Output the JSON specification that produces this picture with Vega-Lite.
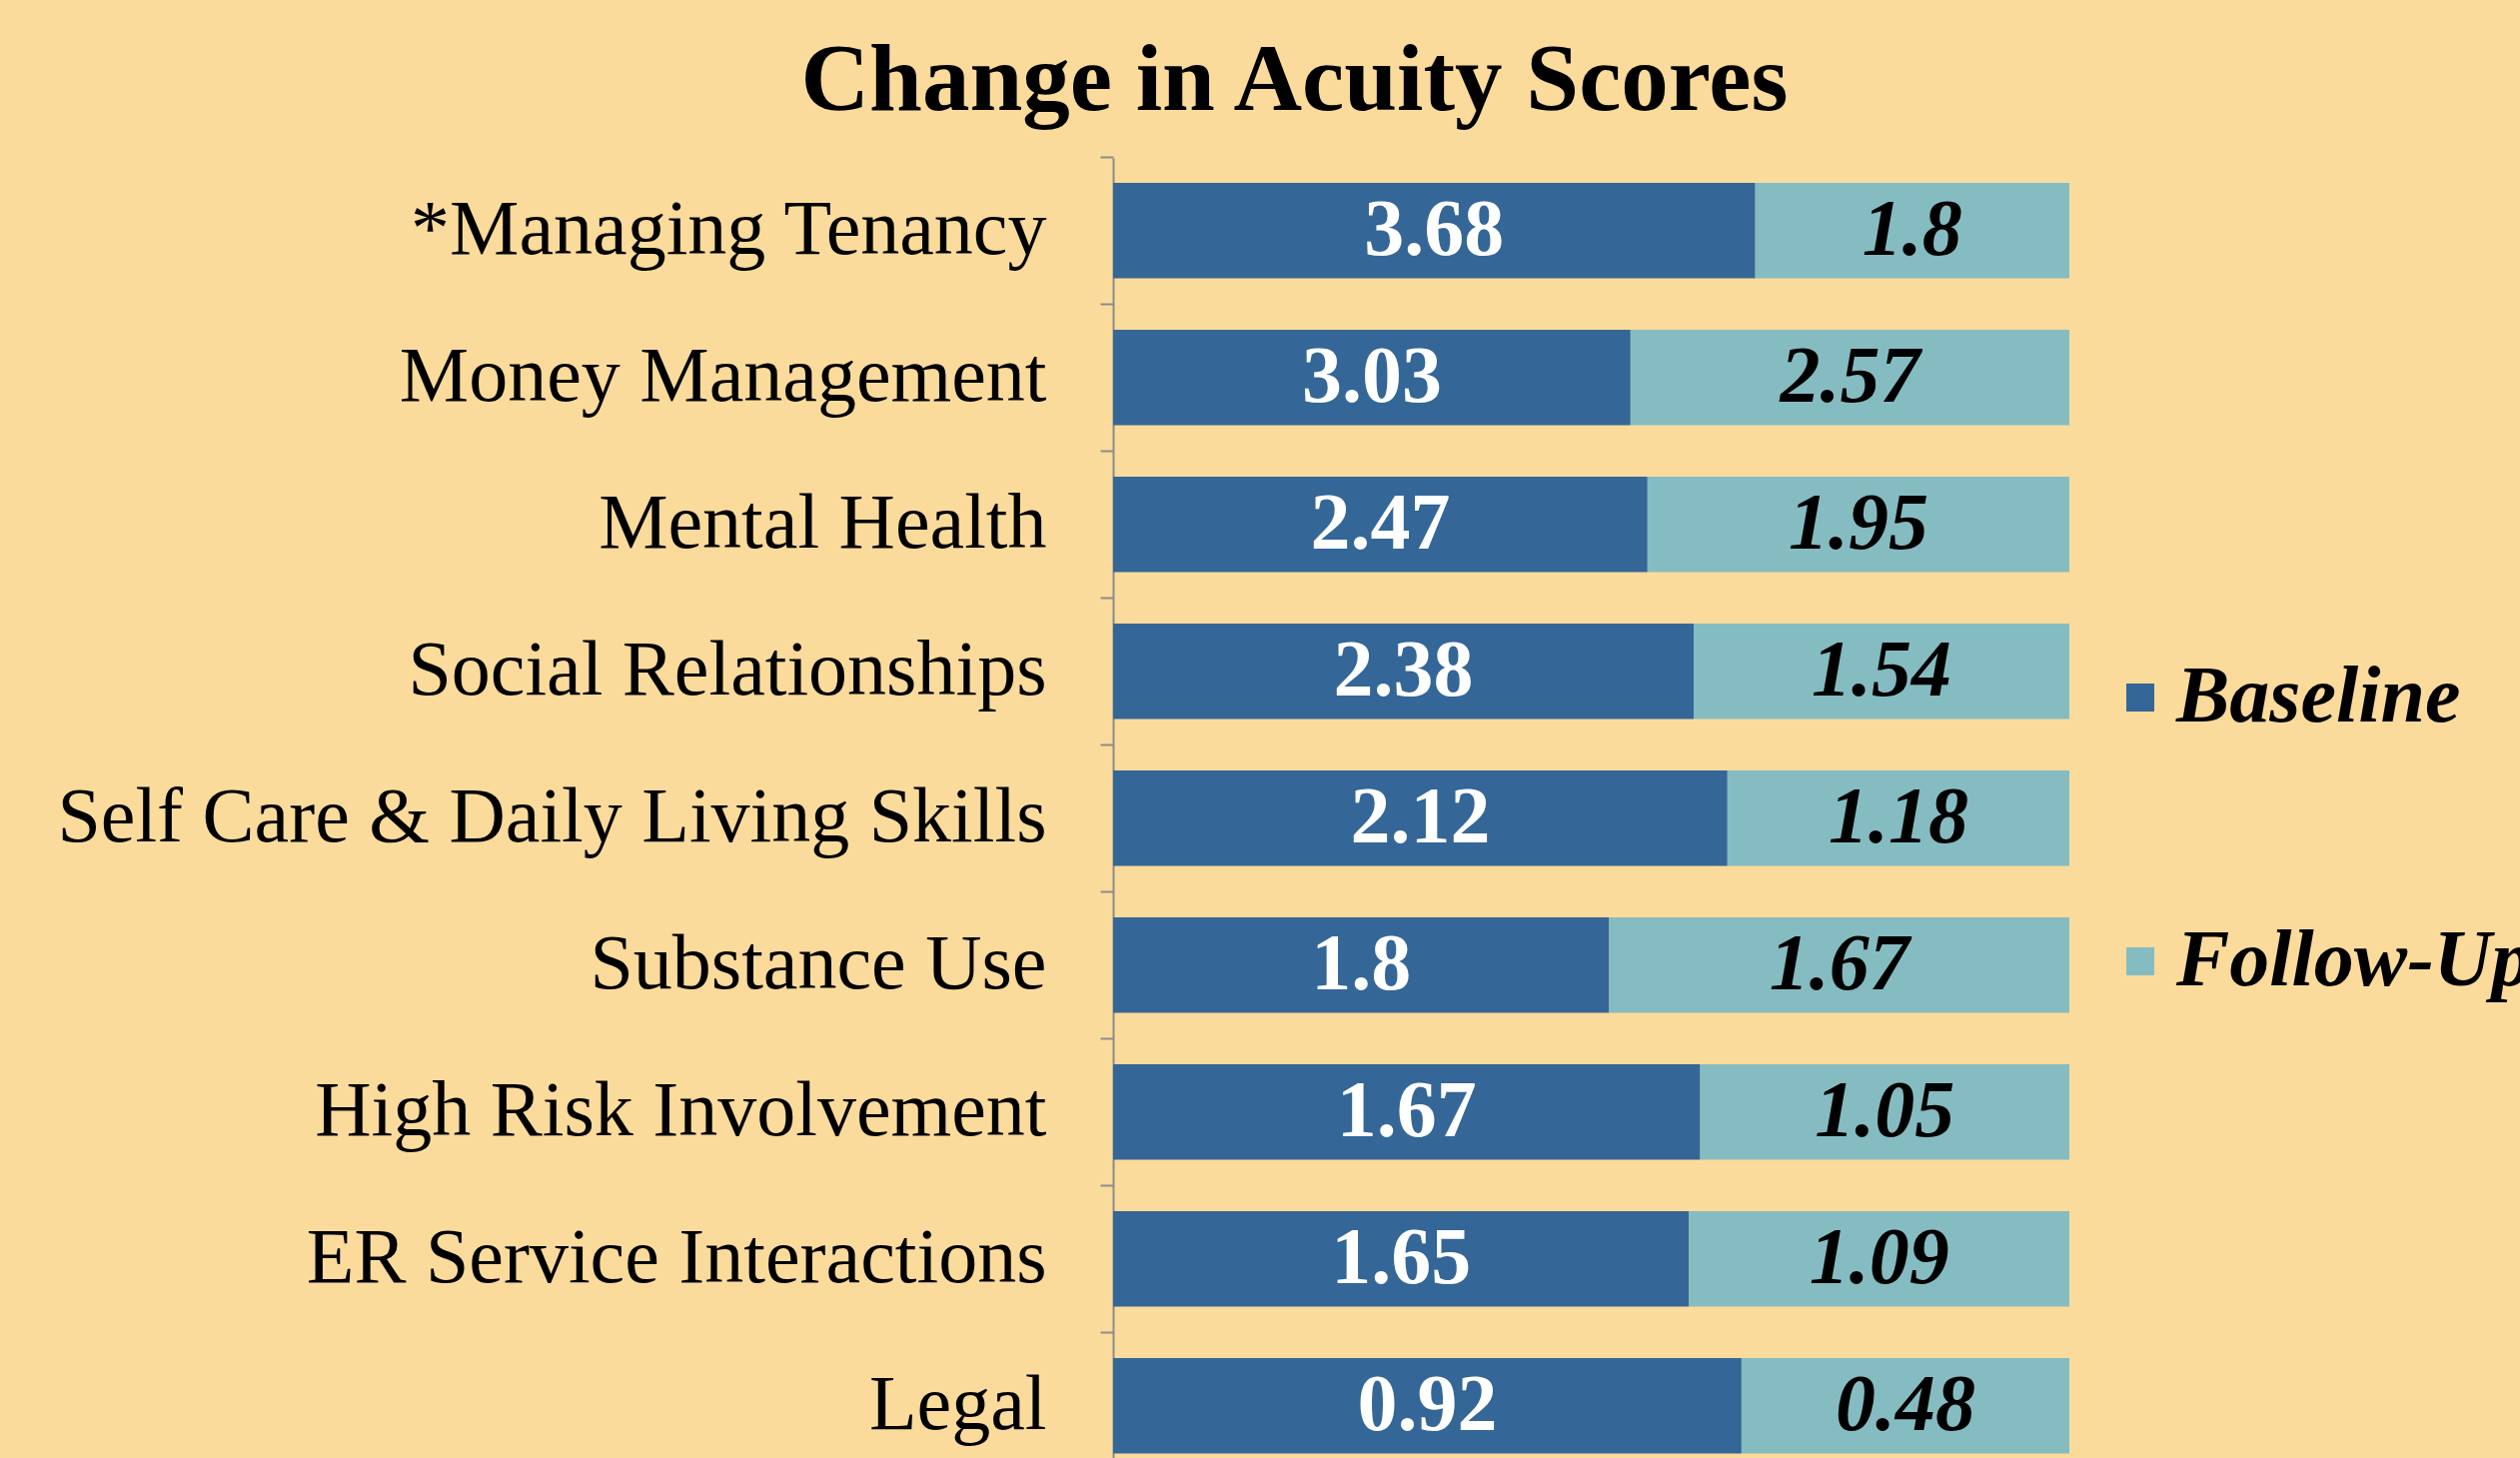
{
  "$schema": "https://vega.github.io/schema/vega-lite/v6.json",
  "autosize": {"type": "none"},
  "padding": {"left": 1114, "top": 158, "right": 451, "bottom": 0},
  "width": 957,
  "height": 1301,
  "background": "#FADB9B",
  "config": {"view": {"stroke": null}},
  "title": {
    "text": "Change in Acuity Scores",
    "anchor": "middle",
    "frame": "bounds",
    "font": "Liberation Serif",
    "fontSize": 95,
    "fontWeight": "bold",
    "color": "#000000",
    "offset": 20,
    "dy": -6
  },
  "data": {
    "values": [
      {"category": "*Managing Tenancy", "series": "Baseline", "order": 1, "value": 3.68},
      {"category": "*Managing Tenancy", "series": "Follow-Up", "order": 2, "value": 1.8},
      {"category": "Money Management", "series": "Baseline", "order": 1, "value": 3.03},
      {"category": "Money Management", "series": "Follow-Up", "order": 2, "value": 2.57},
      {"category": "Mental Health", "series": "Baseline", "order": 1, "value": 2.47},
      {"category": "Mental Health", "series": "Follow-Up", "order": 2, "value": 1.95},
      {"category": "Social Relationships", "series": "Baseline", "order": 1, "value": 2.38},
      {"category": "Social Relationships", "series": "Follow-Up", "order": 2, "value": 1.54},
      {"category": "Self Care & Daily Living Skills", "series": "Baseline", "order": 1, "value": 2.12},
      {"category": "Self Care & Daily Living Skills", "series": "Follow-Up", "order": 2, "value": 1.18},
      {"category": "Substance Use", "series": "Baseline", "order": 1, "value": 1.8},
      {"category": "Substance Use", "series": "Follow-Up", "order": 2, "value": 1.67},
      {"category": "High Risk Involvement", "series": "Baseline", "order": 1, "value": 1.67},
      {"category": "High Risk Involvement", "series": "Follow-Up", "order": 2, "value": 1.05},
      {"category": "ER Service Interactions", "series": "Baseline", "order": 1, "value": 1.65},
      {"category": "ER Service Interactions", "series": "Follow-Up", "order": 2, "value": 1.09},
      {"category": "Legal", "series": "Baseline", "order": 1, "value": 0.92},
      {"category": "Legal", "series": "Follow-Up", "order": 2, "value": 0.48}
    ]
  },
  "encoding": {
    "y": {
      "field": "category",
      "type": "nominal",
      "sort": ["*Managing Tenancy", "Money Management", "Mental Health", "Social Relationships", "Self Care & Daily Living Skills", "Substance Use", "High Risk Involvement", "ER Service Interactions", "Legal"],
      "scale": {"paddingInner": 0.35, "paddingOuter": 0.1, "align": 0.85},
      "axis": {
        "title": null,
        "tickOffset": -73.5,
        "labelOffset": 73.5,
        "domainColor": "#8c8c8c",
        "domainWidth": 2,
        "tickColor": "#8c8c8c",
        "tickWidth": 2,
        "tickSize": 13,
        "labelPadding": 54,
        "labelFont": "Liberation Serif",
        "labelFontSize": 78,
        "labelColor": "#000000",
        "labelLimit": 2000
      }
    }
  },
  "layer": [
    {
      "mark": {"type": "bar"},
      "encoding": {
        "x": {"field": "value", "type": "quantitative", "stack": "normalize", "axis": null},
        "color": {
          "field": "series",
          "type": "nominal",
          "scale": {"domain": ["Baseline", "Follow-Up"], "range": ["#346697", "#85BCC2"]},
          "legend": {
            "orient": "none",
            "legendX": 988,
            "legendY": 500,
            "title": null,
            "padding": 0,
            "symbolType": "square",
            "symbolSize": 784,
            "symbolStrokeWidth": 0,
            "labelFont": "Liberation Serif",
            "labelFontSize": 80,
            "labelFontStyle": "italic",
            "labelFontWeight": "bold",
            "labelColor": "#000000",
            "labelOffset": -4,
            "labelLimit": 1000,
            "rowPadding": 184
          }
        },
        "order": {"field": "order"}
      }
    },
    {
      "mark": {"type": "text", "font": "Liberation Serif", "fontSize": 80, "fontWeight": "bold", "baseline": "middle", "align": "center"},
      "encoding": {
        "x": {"field": "value", "type": "quantitative", "stack": "normalize", "bandPosition": 0.5},
        "detail": {"field": "series"},
        "order": {"field": "order"},
        "text": {"field": "value", "type": "nominal"},
        "color": {"condition": {"test": "datum.series === 'Baseline'", "value": "#ffffff"}, "value": "transparent"}
      }
    },
    {
      "mark": {"type": "text", "font": "Liberation Serif", "fontSize": 80, "fontWeight": "bold", "fontStyle": "italic", "baseline": "middle", "align": "center"},
      "encoding": {
        "x": {"field": "value", "type": "quantitative", "stack": "normalize", "bandPosition": 0.5},
        "detail": {"field": "series"},
        "order": {"field": "order"},
        "text": {"field": "value", "type": "nominal"},
        "color": {"condition": {"test": "datum.series === 'Follow-Up'", "value": "#000000"}, "value": "transparent"}
      }
    }
  ]
}
